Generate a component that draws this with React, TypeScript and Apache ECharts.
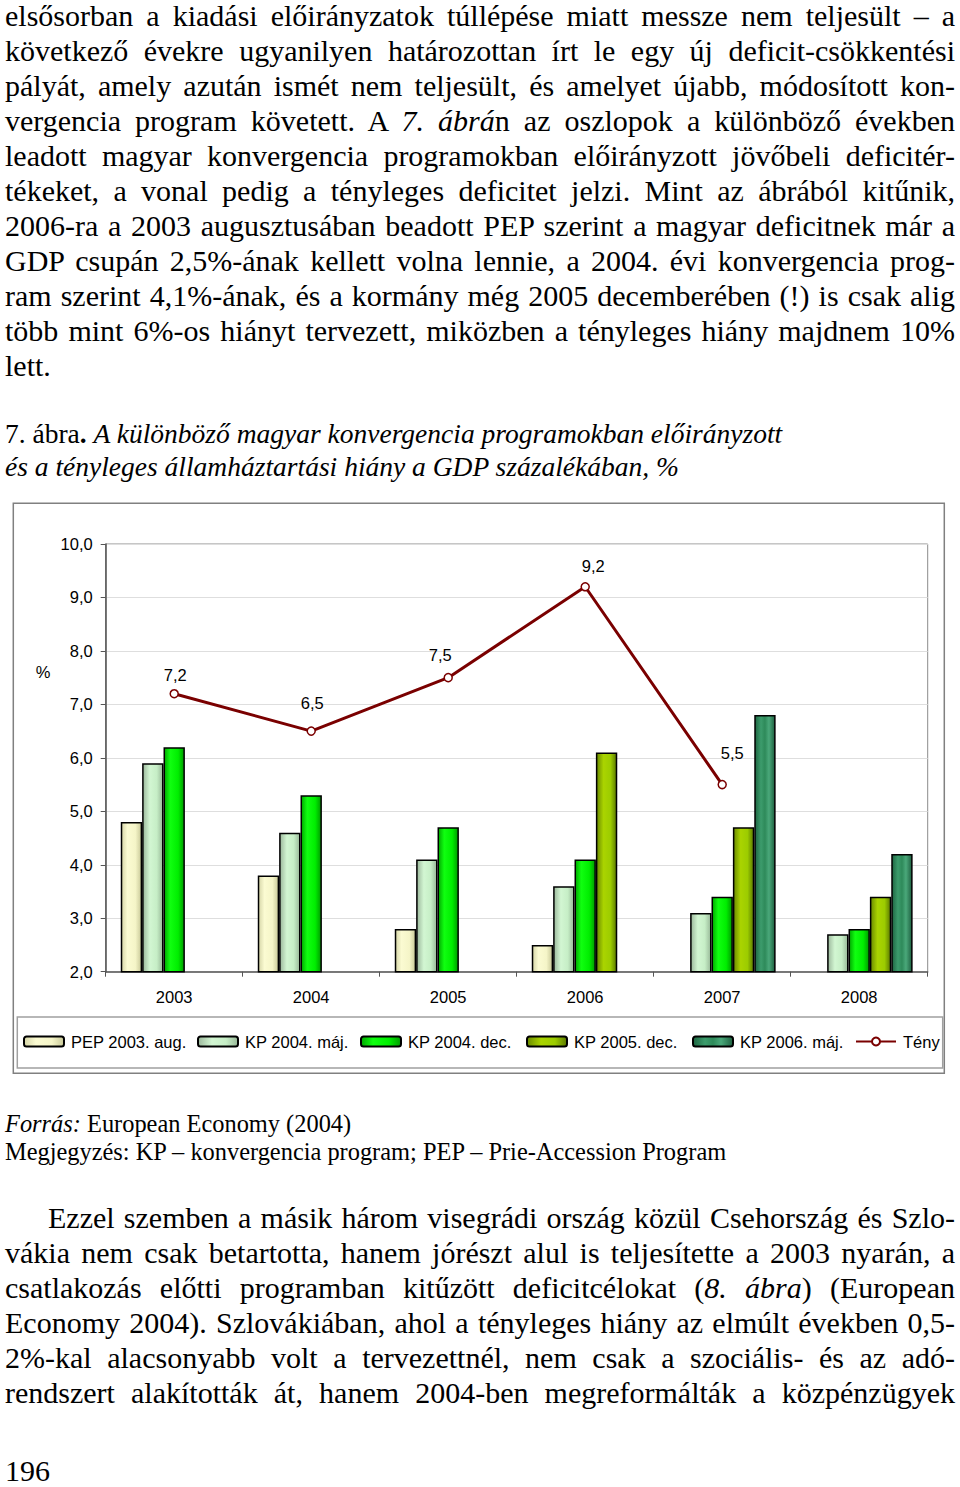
import React, { useEffect, useRef } from "react";
import * as echarts from "echarts";

const categories = ["2003", "2004", "2005", "2006", "2007", "2008"];
const pep2003Aug = [4.8, 3.8, 2.8, 2.5, null, null];
const kp2004Maj = [5.9, 4.6, 4.1, 3.6, 3.1, 2.7];
const kp2004Dec = [6.2, 5.3, 4.7, 4.1, 3.4, 2.8];
const kp2005Dec = [null, null, null, 6.1, 4.7, 3.4];
const kp2006Maj = [null, null, null, null, 6.8, 4.2];
const teny = [7.2, 6.5, 7.5, 9.2, 5.5, null];
const seriesNames = ["PEP 2003. aug.", "KP 2004. máj.", "KP 2004. dec.", "KP 2005. dec.", "KP 2006. máj.", "Tény"];
const yMin = 2;
const yMax = 10;
const yStep = 1;

const topLines: React.ReactNode[] = [
  "elsősorban a kiadási előirányzatok túllépése miatt messze nem teljesült – a",
  "következő évekre ugyanilyen határozottan írt le egy új deficit-csökkentési",
  "pályát, amely azután ismét nem teljesült, és amelyet újabb, módosított kon-",
  <>vergencia program követett. A <i>7. ábrá</i>n az oszlopok a különböző években</>,
  "leadott magyar konvergencia programokban előirányzott jövőbeli deficitér-",
  "tékeket, a vonal pedig a tényleges deficitet jelzi. Mint az ábrából kitűnik,",
  "2006-ra a 2003 augusztusában beadott PEP szerint a magyar deficitnek már a",
  "GDP csupán 2,5%-ának kellett volna lennie, a 2004. évi konvergencia prog-",
  "ram szerint 4,1%-ának, és a kormány még 2005 decemberében (!) is csak alig",
  "több mint 6%-os hiányt tervezett, miközben a tényleges hiány majdnem 10%",
  "lett.",
];

const bottomLines: React.ReactNode[] = [
  "Ezzel szemben a másik három visegrádi ország közül Csehország és Szlo-",
  "vákia nem csak betartotta, hanem jórészt alul is teljesítette a 2003 nyarán, a",
  <>csatlakozás előtti programban kitűzött deficitcélokat (<i>8. ábra</i>) (European</>,
  "Economy 2004). Szlovákiában, ahol a tényleges hiány az elmúlt években 0,5-",
  "2%-kal alacsonyabb volt a tervezettnél, nem csak a szociális- és az adó-",
  "rendszert alakították át, hanem 2004-ben megreformálták a közpénzügyek",
];

const FONT_SANS = '"Liberation Sans", Arial, sans-serif';

function grad(stops: [number, string][]) {
  return new echarts.graphic.LinearGradient(
    0, 0, 1, 0,
    stops.map(([offset, color]) => ({ offset, color }))
  );
}

function Chart() {
  const ref = useRef<HTMLDivElement>(null);
  useEffect(() => {
    if (!ref.current) return;
    const chart = echarts.init(ref.current, undefined, { renderer: "svg" });
    const colors = [
      grad([[0, "#d6d6a8"], [0.3, "#fbfbd2"], [0.7, "#f5f5c8"], [1, "#c8c898"]]),
      grad([[0, "#9cb89c"], [0.35, "#d2f6d2"], [0.7, "#c6eec6"], [1, "#98b898"]]),
      grad([[0, "#00a800"], [0.3, "#10ff10"], [0.7, "#00ee00"], [1, "#009a00"]]),
      grad([[0, "#6a8a00"], [0.35, "#aad400"], [0.7, "#9ccc00"], [1, "#5c7a00"]]),
      grad([[0, "#1e6642"], [0.3, "#3c9c6c"], [0.5, "#2e8a5a"], [0.7, "#4aa87a"], [1, "#1e6040"]]),
    ];
    const barData = [pep2003Aug, kp2004Maj, kp2004Dec, kp2005Dec, kp2006Maj];
    const fmt = (v: number) => v.toFixed(1).replace(".", ",");
    const legendLefts = [23, 197, 360, 526, 692, 855];
    const labelOffsets = [[1, 0], [1, -10], [-8, -4], [8, -3], [10, -13], [0, 0]];
    chart.setOption({
      animation: false,
      textStyle: { fontFamily: FONT_SANS },
      grid: {
        left: 105.7,
        top: 44,
        width: 822,
        height: 427.7,
        show: true,
        borderColor: "#8c8c8c",
        borderWidth: 1,
      },
      legend: seriesNames.map((n, i) => ({
        data: [n],
        left: legendLefts[i],
        top: 533,
        padding: 0,
        itemWidth: 40,
        itemHeight: 10,
        itemGap: 0,
        textStyle: { fontSize: 16.5, color: "#000", fontFamily: FONT_SANS, padding: [0, 0, 0, 2] },
        selectedMode: false,
      })),
      xAxis: {
        type: "category",
        data: categories,
        axisLine: { lineStyle: { color: "#555", width: 1.5 } },
        axisTick: { show: true, length: 5, interval: 0, lineStyle: { color: "#555" } },
        axisLabel: { margin: 17, fontSize: 16.5, color: "#000", fontFamily: FONT_SANS },
      },
      yAxis: {
        type: "value",
        min: yMin,
        max: yMax,
        interval: yStep,
        axisLine: { show: true, lineStyle: { color: "#555", width: 1.5 } },
        axisTick: { show: true, length: 5, lineStyle: { color: "#555" } },
        axisLabel: { margin: 13, fontSize: 16.5, color: "#000", fontFamily: FONT_SANS, formatter: (v: number) => fmt(v) },
        splitLine: { lineStyle: { color: "#dedede" } },
      },
      series: [
        ...barData.map((d, i) => ({
          name: seriesNames[i],
          type: "bar",
          data: d,
          barGap: "0%",
          barCategoryGap: "22%",
          itemStyle: { color: colors[i], borderColor: "#000", borderWidth: 1.5 },
        })),
        {
          name: seriesNames[5],
          type: "line",
          data: teny.map((v, i) => ({ value: v, label: { offset: labelOffsets[i] } })),
          z: 10,
          symbol: "circle",
          symbolSize: 8,
          connectNulls: false,
          lineStyle: { color: "#7a0000", width: 3 },
          itemStyle: { color: "#fff", borderColor: "#7a0000", borderWidth: 1.5 },
          label: {
            show: true,
            position: "top",
            fontSize: 16.5,
            color: "#000",
            fontFamily: FONT_SANS,
            formatter: (p: any) => fmt(p.value),
          },
        },
      ],
      graphic: [
        {
          type: "rect",
          shape: { x: 13.3, y: 3.3, width: 931, height: 570 },
          style: { fill: "none", stroke: "#808080", lineWidth: 1.5 },
          silent: true,
        },
        {
          type: "rect",
          shape: { x: 17.3, y: 517, width: 925.4, height: 51 },
          style: { fill: "none", stroke: "#a0a0a0", lineWidth: 1.5 },
          silent: true,
        },
        {
          type: "text",
          x: 43,
          y: 172,
          style: { text: "%", fontSize: 16.5, fill: "#000", fontFamily: FONT_SANS, align: "center", verticalAlign: "middle" },
        },
      ],
    });
    return () => chart.dispose();
  }, []);
  return <div ref={ref} style={{ position: "absolute", left: 0, top: 500, width: 960, height: 590 }} />;
}

function Lines({ lines, top, lastJustified, indentFirst }: { lines: React.ReactNode[]; top: number; lastJustified: boolean; indentFirst?: number }) {
  return (
    <>
      {lines.map((l, i) => {
        const isLast = i === lines.length - 1;
        const indent = i === 0 && indentFirst ? indentFirst : 0;
        return (
          <div
            key={i}
            style={{
              position: "absolute",
              left: 5 + indent,
              width: 950 - indent,
              top: top + i * 35,
              fontSize: 30,
              lineHeight: "28px",
              textAlign: "justify",
              textAlignLast: isLast && !lastJustified ? "left" : "justify",
              whiteSpace: "normal",
            }}
          >
            {l}
          </div>
        );
      })}
    </>
  );
}

export default function App() {
  return (
    <div
      style={{
        position: "absolute",
        left: 0,
        top: 0,
        width: 960,
        height: 1487,
        background: "#fff",
        color: "#000",
        fontFamily: '"Liberation Serif", "Times New Roman", serif',
        overflow: "hidden",
      }}
    >
      <Lines lines={topLines} top={2.2} lastJustified={false} />
      <div style={{ position: "absolute", left: 5, top: 417, fontSize: 27.5, lineHeight: "33px", whiteSpace: "nowrap" }}>
        7. ábra<b>.</b> <i>A különböző magyar konvergencia programokban előirányzott</i>
        <br />
        <i>és a tényleges államháztartási hiány a GDP százalékában, %</i>
      </div>
      <Chart />
      <div style={{ position: "absolute", left: 5, top: 1109.5, fontSize: 24.4, lineHeight: "28px", whiteSpace: "nowrap" }}>
        <i>Forrás:</i> European Economy (2004)
        <br />
        Megjegyzés: KP – konvergencia program; PEP – Prie-Accession Program
      </div>
      <Lines lines={bottomLines} top={1204} lastJustified={true} indentFirst={43} />
      <div style={{ position: "absolute", left: 5, top: 1453.5, fontSize: 30, lineHeight: "33.5px" }}>196</div>
    </div>
  );
}
